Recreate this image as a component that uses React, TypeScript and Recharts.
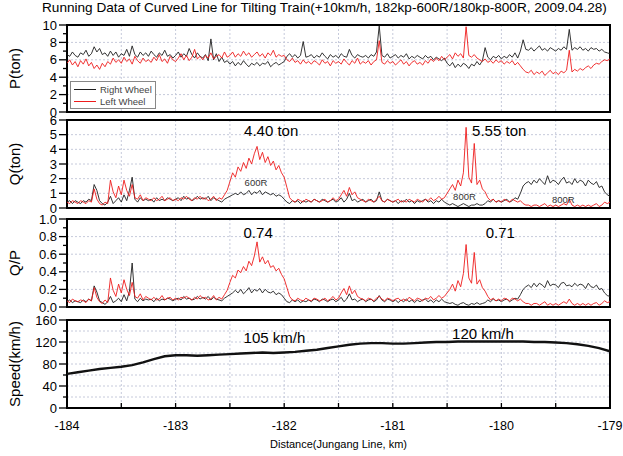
import React from 'react';
import { LineChart, Line, XAxis, YAxis, CartesianGrid, ReferenceArea, ReferenceDot, Legend } from 'recharts';

// sampling: every 0.025 km from -184 to -179 (201 samples)
const KM_START = -184;
const KM_STEP = 0.025;
const SPEED_STEP = 0.1;

const X_DOMAIN: [number, number] = [-184, -179];
const X_TICKS = [-184, -183.5, -183, -182.5, -182, -181.5, -181, -180.5, -180, -179.5, -179];

const P_RIGHT = [
  6.6, 6.4, 6.9, 6.5, 6.3, 6.8, 6.6, 7.1, 6.4, 6.7,
  7.5, 6.9, 7.3, 6.6, 6.8, 6.4, 7.0, 6.5, 6.9, 6.3,
  6.7, 6.5, 7.2, 6.4, 7.6, 6.6, 6.3, 6.9, 6.5, 6.8,
  6.4, 7.0, 6.6, 6.3, 6.8, 6.5, 7.1, 6.4, 6.6, 6.2,
  6.5, 6.9, 6.3, 6.7, 6.4, 7.3, 6.6, 6.2, 6.8, 6.4,
  6.2, 6.6, 5.9, 8.4, 6.0, 6.7, 5.8, 6.3, 5.7, 5.9,
  5.5, 5.8, 5.3, 5.7, 5.4, 5.9, 5.5, 5.2, 5.6, 5.4,
  5.7, 5.3, 5.6, 5.5, 5.8, 5.2, 5.5, 5.7, 5.4, 5.6,
  5.8, 6.4, 6.7, 6.3, 6.6, 6.2, 6.5, 8.1, 6.3, 6.4,
  6.6, 6.2, 6.5, 6.3, 6.8, 6.4, 6.1, 6.6, 6.3, 6.5,
  6.2, 6.7, 6.4, 6.3, 7.2, 6.5, 6.2, 6.6, 6.4, 6.3,
  6.5, 6.2, 6.6, 6.4, 6.9, 9.9, 6.5, 6.3, 6.7, 6.2,
  6.4, 6.6, 6.2, 6.5, 6.3, 6.7, 6.1, 6.4, 6.2, 6.5,
  6.3, 6.1, 6.5, 6.2, 6.4, 6.0, 6.3, 6.1, 5.9, 6.2,
  5.6, 5.3, 5.7, 5.1, 5.5, 5.2, 5.6, 5.4, 5.0, 5.5,
  5.3, 5.8, 5.4, 5.9, 7.4, 6.3, 6.0, 6.4, 6.2, 6.5,
  6.1, 6.4, 6.2, 6.6, 6.3, 6.8, 6.2, 7.0, 8.3, 7.2,
  7.1, 7.4, 7.0, 7.3, 7.6, 7.1, 7.3, 7.0, 7.4, 7.2,
  7.0, 7.3, 7.1, 7.5, 7.2, 9.5, 7.1, 7.4, 7.2, 7.5,
  7.1, 7.3, 7.0, 7.4, 7.2, 7.3, 7.0, 7.2, 6.9, 6.8,
  6.7,
];
const P_LEFT = [
  5.6, 6.0, 5.4, 5.8, 5.2, 5.9, 5.5, 6.1, 5.3, 5.7,
  5.0, 5.4, 4.9, 5.6, 5.2, 5.8, 5.5, 6.2, 5.7, 6.0,
  5.6, 6.3, 5.8, 6.1, 5.5, 6.4, 5.9, 5.6, 6.2, 5.8,
  6.0, 5.7, 6.3, 5.9, 6.6, 5.8, 6.1, 5.6, 6.4, 6.0,
  5.8, 6.2, 6.7, 6.0, 6.5, 5.9, 6.3, 7.2, 6.1, 6.4,
  6.0, 6.5, 6.2, 6.8, 6.1, 6.4, 6.6, 6.2, 6.9, 6.3,
  6.5, 6.9, 6.3, 6.7, 6.4, 7.0, 6.5, 6.8, 6.3, 6.6,
  6.9, 6.4, 6.7, 6.2, 6.8, 6.5, 7.1, 6.3, 6.6, 6.4,
  6.5, 6.0, 5.8, 6.2, 5.7, 5.9, 5.5, 6.0, 5.6, 5.8,
  5.5, 5.9, 5.7, 5.4, 6.0, 5.6, 5.8, 5.3, 5.9, 5.6,
  5.8, 5.5, 6.1, 5.7, 5.4, 5.9, 5.6, 6.2, 5.5, 5.8,
  5.6, 5.9, 5.4, 5.8, 6.0, 8.2, 5.7, 5.5, 5.9, 5.6,
  5.8, 5.4, 5.7, 6.0, 5.5, 5.8, 5.3, 5.7, 5.9, 5.5,
  5.7, 5.4, 5.9, 5.6, 6.1, 5.8, 6.2, 5.9, 6.4, 6.0,
  6.3, 6.6, 6.1, 6.8, 6.4, 6.7, 6.2, 9.8, 6.5, 6.3,
  6.6, 6.2, 6.0, 5.8, 6.1, 5.7, 5.9, 5.6, 6.0, 5.7,
  5.9, 5.5, 5.8, 5.6, 5.9, 5.4, 5.7, 5.3, 4.9, 4.6,
  4.5, 4.8, 4.3, 4.6, 4.4, 4.7, 4.2, 4.5, 4.8, 4.4,
  4.6, 4.3, 4.7, 4.5, 4.8, 7.1, 4.6, 4.9, 4.7, 5.0,
  4.8, 5.1, 5.3, 5.0, 5.4, 5.6, 5.5, 5.8, 6.0, 5.9,
  6.1,
];

const Q_RIGHT = [
  0.4, 0.5, 0.3, 0.5, 0.4, 0.3, 0.5, 0.4, 0.6, 0.5,
  1.6, 1.2, 0.5, 0.3, 0.2, 0.4, 0.8, 0.3, 0.5, 0.7,
  0.4, 0.9, 0.5, 1.2, 2.1, 0.6, 0.4, 0.7, 0.5, 0.6,
  0.5, 0.6, 0.4, 0.7, 0.5, 0.6, 0.5, 0.7, 0.6, 0.5,
  0.6, 0.7, 0.5, 0.8, 0.6, 0.7, 0.5, 0.6, 0.8, 0.6,
  0.7, 0.6, 0.8, 0.5, 0.7, 0.6, 0.5, 0.4, 0.6, 0.7,
  0.8, 0.9, 1.0, 0.9, 1.1, 0.9, 1.0, 1.2, 0.9, 1.1,
  1.0, 1.2, 0.9, 1.1, 1.0, 0.9, 1.0, 0.8, 0.9, 0.8,
  0.6, 0.4, 0.3, 0.5, 0.4, 0.5, 0.3, 0.5, 0.4, 0.5,
  0.4, 0.6, 0.5, 0.4, 0.6, 0.5, 0.4, 0.5, 0.6, 0.4,
  0.5, 0.7, 0.4, 0.6, 1.0, 0.5, 0.6, 0.4, 0.5, 0.6,
  0.4, 0.5, 0.6, 0.4, 0.5, 1.1, 0.5, 0.4, 0.6, 0.5,
  0.4, 0.5, 0.3, 0.5, 0.4, 0.6, 0.4, 0.5, 0.3, 0.5,
  0.4, 0.5, 0.6, 0.4, 0.5, 0.3, 0.5, 0.4, 0.6, 0.4,
  0.3, 0.2, 0.3, 0.2, 0.1, 0.2, 0.3, 0.2, 0.1, 0.2,
  0.2, 0.3, 0.2, 0.2, 0.3, 0.5, 0.4, 0.6, 0.4, 0.5,
  0.4, 0.5, 0.6, 0.4, 0.5, 0.7, 0.6, 1.0, 1.5, 1.7,
  1.8, 1.6, 1.9, 1.7, 2.0, 1.8, 1.6, 2.2, 1.7, 1.9,
  1.8, 1.6, 1.9, 2.1, 1.7, 1.8, 1.6, 2.0, 1.7, 1.9,
  1.8, 1.5, 1.9, 1.7, 1.6, 1.8, 1.4, 1.5, 1.1, 0.9,
  0.8,
];
const Q_LEFT = [
  0.4, 0.3, 0.5, 0.4, 0.3, 0.5, 0.4, 0.3, 0.5, 0.4,
  1.3, 0.6, 0.3, 0.2, 0.4, 0.3, 1.9, 1.1, 0.7, 1.5,
  0.9, 1.9, 1.2, 0.8, 1.6, 0.7, 0.6, 0.9, 0.5, 0.7,
  0.6, 0.5, 0.7, 0.5, 0.6, 0.8, 0.5, 0.6, 0.7, 0.5,
  0.6, 0.5, 0.7, 0.6, 0.8, 0.6, 0.5, 0.7, 0.6, 0.8,
  0.6, 0.7, 0.5, 0.6, 0.8, 0.5, 0.7, 0.6, 0.9, 1.2,
  1.8, 2.4, 2.1, 2.8, 2.5, 3.1, 2.7, 3.4, 3.0, 3.7,
  4.2, 3.3, 3.8, 3.1, 3.5, 2.9, 3.2, 2.6, 2.9, 2.4,
  2.1, 1.4, 0.7, 0.5, 0.4, 0.6, 0.5, 0.4, 0.6, 0.5,
  0.4, 0.6, 0.5, 0.4, 0.5, 0.6, 0.4, 0.5, 0.7, 0.5,
  0.6, 0.9, 1.2, 0.8, 1.4, 0.9, 1.1, 0.7, 0.6, 0.5,
  0.4, 0.6, 0.5, 0.4, 0.6, 0.8, 0.5, 0.4, 0.6, 0.5,
  0.4, 0.5, 0.6, 0.4, 0.5, 0.4, 0.6, 0.5, 0.4, 0.6,
  0.5, 0.4, 0.6, 0.5, 0.7, 0.5, 0.6, 0.8, 0.6, 0.7,
  1.0, 1.3, 1.6, 1.2, 1.9, 1.5, 2.4, 5.5, 2.1, 1.7,
  4.4, 1.6, 1.9, 1.3, 1.1, 0.7, 0.5, 0.6, 0.4, 0.5,
  0.4, 0.6, 0.5, 0.4, 0.6, 0.5, 0.4, 0.5, 0.3, 0.2,
  0.2, 0.1, 0.2, 0.2, 0.1, 0.2, 0.3, 0.1, 0.2, 0.1,
  0.2, 0.1, 0.2, 0.3, 0.2, 0.6, 0.2, 0.1, 0.2, 0.1,
  0.2, 0.1, 0.2, 0.1, 0.2, 0.3, 0.1, 0.2, 0.4, 0.3,
  0.4,
];

const QP_RIGHT = [
  0.06, 0.08, 0.05, 0.07, 0.06, 0.05, 0.08, 0.06, 0.09, 0.07,
  0.24, 0.17, 0.07, 0.05, 0.03, 0.06, 0.12, 0.05, 0.07, 0.10,
  0.06, 0.14, 0.07, 0.18, 0.50, 0.09, 0.06, 0.10, 0.07, 0.09,
  0.08, 0.09, 0.06, 0.10, 0.07, 0.09, 0.08, 0.10, 0.09, 0.07,
  0.09, 0.10, 0.08, 0.12, 0.09, 0.10, 0.08, 0.09, 0.12, 0.09,
  0.11, 0.09, 0.12, 0.08, 0.11, 0.09, 0.08, 0.07, 0.10, 0.12,
  0.14, 0.16, 0.19, 0.16, 0.20, 0.15, 0.18, 0.22, 0.16, 0.20,
  0.18, 0.21, 0.16, 0.20, 0.17, 0.16, 0.18, 0.14, 0.16, 0.14,
  0.10, 0.06, 0.05, 0.08, 0.06, 0.08, 0.05, 0.07, 0.06, 0.08,
  0.06, 0.09, 0.08, 0.06, 0.09, 0.08, 0.06, 0.08, 0.09, 0.06,
  0.08, 0.11, 0.06, 0.09, 0.15, 0.08, 0.09, 0.06, 0.08, 0.09,
  0.06, 0.08, 0.09, 0.06, 0.08, 0.13, 0.08, 0.06, 0.09, 0.08,
  0.06, 0.08, 0.05, 0.08, 0.06, 0.09, 0.06, 0.08, 0.05, 0.08,
  0.06, 0.08, 0.09, 0.06, 0.08, 0.05, 0.08, 0.06, 0.09, 0.06,
  0.05, 0.04, 0.05, 0.03, 0.02, 0.04, 0.05, 0.03, 0.02, 0.04,
  0.03, 0.05, 0.03, 0.04, 0.05, 0.08, 0.06, 0.09, 0.07, 0.08,
  0.06, 0.08, 0.09, 0.06, 0.08, 0.10, 0.09, 0.14, 0.20, 0.23,
  0.25, 0.22, 0.27, 0.23, 0.27, 0.25, 0.22, 0.30, 0.24, 0.26,
  0.25, 0.22, 0.27, 0.28, 0.24, 0.25, 0.23, 0.27, 0.24, 0.26,
  0.25, 0.21, 0.27, 0.23, 0.22, 0.25, 0.20, 0.21, 0.16, 0.13,
  0.12,
];
const QP_LEFT = [
  0.07, 0.05, 0.09, 0.07, 0.06, 0.08, 0.07, 0.05, 0.09, 0.07,
  0.22, 0.11, 0.06, 0.04, 0.08, 0.05, 0.33, 0.19, 0.12, 0.26,
  0.16, 0.31, 0.20, 0.13, 0.28, 0.12, 0.10, 0.15, 0.08, 0.12,
  0.10, 0.08, 0.11, 0.08, 0.09, 0.13, 0.08, 0.10, 0.11, 0.08,
  0.10, 0.08, 0.11, 0.10, 0.12, 0.10, 0.08, 0.11, 0.09, 0.13,
  0.10, 0.11, 0.08, 0.09, 0.13, 0.08, 0.11, 0.09, 0.14, 0.19,
  0.28, 0.36, 0.33, 0.42, 0.39, 0.46, 0.41, 0.52, 0.47, 0.58,
  0.74, 0.51, 0.57, 0.49, 0.53, 0.45, 0.47, 0.41, 0.44, 0.37,
  0.32, 0.22, 0.12, 0.08, 0.07, 0.10, 0.08, 0.07, 0.10, 0.08,
  0.07, 0.10, 0.09, 0.07, 0.08, 0.10, 0.07, 0.09, 0.12, 0.08,
  0.10, 0.16, 0.21, 0.14, 0.24, 0.15, 0.19, 0.12, 0.10, 0.09,
  0.07, 0.10, 0.09, 0.07, 0.10, 0.12, 0.09, 0.07, 0.10, 0.09,
  0.07, 0.09, 0.10, 0.07, 0.09, 0.07, 0.11, 0.09, 0.07, 0.10,
  0.09, 0.07, 0.10, 0.09, 0.12, 0.08, 0.10, 0.13, 0.10, 0.12,
  0.16, 0.20, 0.26, 0.18, 0.30, 0.23, 0.38, 0.71, 0.33, 0.27,
  0.62, 0.26, 0.31, 0.22, 0.18, 0.12, 0.08, 0.10, 0.07, 0.09,
  0.07, 0.10, 0.09, 0.07, 0.10, 0.09, 0.07, 0.09, 0.06, 0.04,
  0.04, 0.02, 0.04, 0.04, 0.02, 0.04, 0.06, 0.02, 0.04, 0.02,
  0.04, 0.02, 0.04, 0.06, 0.04, 0.09, 0.04, 0.02, 0.04, 0.02,
  0.04, 0.02, 0.04, 0.02, 0.04, 0.05, 0.02, 0.04, 0.07, 0.05,
  0.06,
];

// every 0.1 km
const SPEED = [
  62, 65, 68, 71, 73, 75, 78, 83, 89, 94,
  96, 96, 95, 96, 97, 98, 99, 100, 101, 100,
  101, 102, 104, 106, 109, 112, 115, 117, 118, 118,
  117, 117, 118, 119, 120, 120, 121, 121, 121, 121,
  121, 121, 121, 120, 120, 119, 118, 116, 113, 109,
  103,
];

const P_TICKS = [0, 1, 2, 3, 4, 5, 6, 7, 8, 9, 10];
const P_MAJOR = [0, 2, 4, 6, 8, 10];
const P_GRID = [2, 4, 6, 8];
const Q_TICKS = [0, 1, 2, 3, 4, 5, 6];
const Q_GRID = [1, 2, 3, 4, 5];
const QP_TICKS = [0, 0.1, 0.2, 0.3, 0.4, 0.5, 0.6, 0.7, 0.8, 0.9, 1.0];
const QP_MAJOR = [0, 0.2, 0.4, 0.6, 0.8, 1.0];
const QP_GRID = [0.2, 0.4, 0.6, 0.8];
const S_TICKS = [0, 20, 40, 60, 80, 100, 120, 140, 160];
const S_MAJOR = [0, 40, 80, 120, 160];
const S_GRID = [20, 40, 60, 80, 100, 120, 140];

const Q_NOTES = [
  { km: -182.12, v: 5.3, text: '4.40 ton', size: 15 },
  { km: -180.02, v: 5.3, text: '5.55 ton', size: 15 },
  { km: -182.26, v: 1.7, text: '600R', size: 9.5 },
  { km: -180.34, v: 0.8, text: '800R', size: 9.5 },
  { km: -179.43, v: 0.6, text: '800R', size: 9.5 },
];
const QP_NOTES = [
  { km: -182.24, v: 0.85, text: '0.74', size: 15 },
  { km: -180.01, v: 0.85, text: '0.71', size: 15 },
];
const S_NOTES = [
  { km: -182.09, v: 127, text: '105 km/h', size: 15 },
  { km: -180.17, v: 136, text: '120 km/h', size: 15 },
];

const W = 623;
const PLOT_R = 610;
const FONT = '"Liberation Sans", Arial, sans-serif';
const RIGHT_COLOR = '#1e1e1e';
const LEFT_COLOR = '#ee1c1c';

const at = (i: number, step: number) => Math.round((KM_START + i * step) * 1000) / 1000;
const wheelRows = (right: number[], left: number[]) =>
  right.map((r, i) => ({ km: at(i, KM_STEP), right: r, left: left[i] }));

const pRows = wheelRows(P_RIGHT, P_LEFT);
const qRows = wheelRows(Q_RIGHT, Q_LEFT);
const qpRows = wheelRows(QP_RIGHT, QP_LEFT);
const speedRows = SPEED.map((s, i) => ({ km: at(i, SPEED_STEP), speed: s }));

// inward tick marks on the x axis; numbers only on the bottom panel
function XTick(props: any) {
  const { x, y, payload, showLabel } = props;
  const v = payload.value;
  return (
    <g>
      <line x1={x} x2={x} y1={y} y2={y - 5} stroke="#000" strokeWidth={1.3} />
      {showLabel && Number.isInteger(v) && (
        <text x={x} y={y + 22} textAnchor="middle" fontSize={12.5} fill="#000">{v}</text>
      )}
    </g>
  );
}

function YTick(props: any) {
  const { x, y, payload, majors, fmt } = props;
  const v = payload.value;
  const major = majors.includes(v);
  return (
    <g>
      <line x1={x} x2={x - (major ? 8 : 4)} y1={y} y2={y} stroke="#000" strokeWidth={1.3} />
      {major && (
        <text x={x - 10} y={y} dy={4.5} textAnchor="end" fontSize={13} fill="#000">{fmt(v)}</text>
      )}
    </g>
  );
}

function WheelLegend() {
  const row = (color: string, text: string) => (
    <div style={{ display: 'flex', alignItems: 'center', height: 12 }}>
      <span style={{ width: 22, borderTop: `1px solid ${color}`, marginRight: 4 }} />
      <span>{text}</span>
    </div>
  );
  return (
    <div style={{ border: '1px solid #888', background: '#fff', padding: '1px 3px', fontSize: 9.5, color: '#444', fontFamily: FONT }}>
      {row(RIGHT_COLOR, 'Right Wheel')}
      {row(LEFT_COLOR, 'Left Wheel')}
    </div>
  );
}

type Note = { km: number; v: number; text: string; size: number };

function Panel(props: {
  top: number; h: number; rows: any[]; keys: string[]; domain: [number, number];
  ticks: number[]; majors: number[]; grid: number[]; yLabel: string;
  fmt?: (v: number) => string; notes?: Note[]; axisTitle?: string; legend?: boolean; lineWidth?: number;
}) {
  const { top, h, rows, keys, domain, ticks, majors, grid, yLabel, notes = [], axisTitle, legend, lineWidth = 0.9 } = props;
  const fmt = props.fmt || ((v: number) => String(v));
  const pad = 8;
  const xh = axisTitle ? 45 : 0;
  const colors: Record<string, string> = { right: RIGHT_COLOR, left: LEFT_COLOR, speed: '#111' };
  return (
    <div style={{ position: 'absolute', left: 0, top: top - pad }}>
      <LineChart
        width={W}
        height={h + pad + (axisTitle ? xh : pad)}
        data={rows}
        margin={{ top: pad, right: W - PLOT_R, bottom: axisTitle ? 0 : pad, left: 0 }}
        style={{ fontFamily: FONT }}
      >
        <CartesianGrid stroke="#c6cadb" strokeDasharray="2 2" horizontalValues={grid} verticalValues={X_TICKS} />
        <XAxis
          dataKey="km"
          type="number"
          domain={X_DOMAIN}
          allowDataOverflow
          ticks={X_TICKS}
          interval={0}
          tickLine={false}
          axisLine={false}
          tickSize={0}
          tickMargin={0}
          height={xh}
          tick={(p: any) => <XTick {...p} showLabel={!!axisTitle} />}
          label={axisTitle ? { value: axisTitle, position: 'insideBottom', offset: 5, fontSize: 11, fill: '#000' } : undefined}
        />
        <YAxis
          type="number"
          domain={domain}
          allowDataOverflow
          ticks={ticks}
          interval={0}
          width={67}
          tickLine={false}
          axisLine={false}
          tickSize={0}
          tickMargin={0}
          tick={(p: any) => <YTick {...p} majors={majors} fmt={fmt} />}
          label={{ value: yLabel, angle: -90, position: 'insideLeft', offset: 15, fontSize: 15, fill: '#000', style: { textAnchor: 'middle' } }}
        />
        {keys.map((k) => (
          <Line
            key={k}
            dataKey={k}
            name={k === 'right' ? 'Right Wheel' : k === 'left' ? 'Left Wheel' : 'Speed'}
            stroke={colors[k]}
            strokeWidth={lineWidth}
            dot={false}
            isAnimationActive={false}
          />
        ))}
        <ReferenceArea x1={X_DOMAIN[0]} x2={X_DOMAIN[1]} y1={domain[0]} y2={domain[1]} fill="none" stroke="#000" strokeWidth={2} fillOpacity={0} />
        {notes.map((n, i) => (
          <ReferenceDot
            key={i}
            x={n.km}
            y={n.v}
            r={0}
            fill="none"
            stroke="none"
            label={{ value: n.text, position: 'center', fontSize: n.size, fill: n.size < 12 ? '#333' : '#000' }}
          />
        ))}
        {legend && (
          <Legend
            layout="vertical"
            align="center"
            verticalAlign="middle"
            content={() => <WheelLegend />}
            wrapperStyle={{ left: 70, top: 81 - (top - pad), width: 'auto', height: 'auto' }}
          />
        )}
      </LineChart>
    </div>
  );
}

export default function App() {
  return (
    <div style={{ position: 'absolute', left: 0, top: 0, width: W, height: 456, background: '#fff', fontFamily: FONT }}>
      <div style={{ position: 'absolute', left: 42, top: 0, fontSize: 13.6, lineHeight: '16px', whiteSpace: 'nowrap', color: '#000' }}>
        Running Data of Curved Line for Tilting Train(+10km/h, 182kp-600R/180kp-800R, 2009.04.28)
      </div>
      <Panel top={25} h={87} rows={pRows} keys={['right', 'left']} domain={[0, 10]} ticks={P_TICKS} majors={P_MAJOR} grid={P_GRID} yLabel="P(ton)" legend />
      <Panel top={120} h={88} rows={qRows} keys={['right', 'left']} domain={[0, 6]} ticks={Q_TICKS} majors={Q_TICKS} grid={Q_GRID} yLabel="Q(ton)" notes={Q_NOTES} />
      <Panel top={219} h={88} rows={qpRows} keys={['right', 'left']} domain={[0, 1]} ticks={QP_TICKS} majors={QP_MAJOR} grid={QP_GRID} yLabel="Q/P" fmt={(v) => v.toFixed(1)} notes={QP_NOTES} />
      <Panel top={320} h={88} rows={speedRows} keys={['speed']} domain={[0, 160]} ticks={S_TICKS} majors={S_MAJOR} grid={S_GRID} yLabel="Speed(km/h)" notes={S_NOTES} axisTitle="Distance(Jungang Line, km)" lineWidth={2.4} />
    </div>
  );
}
